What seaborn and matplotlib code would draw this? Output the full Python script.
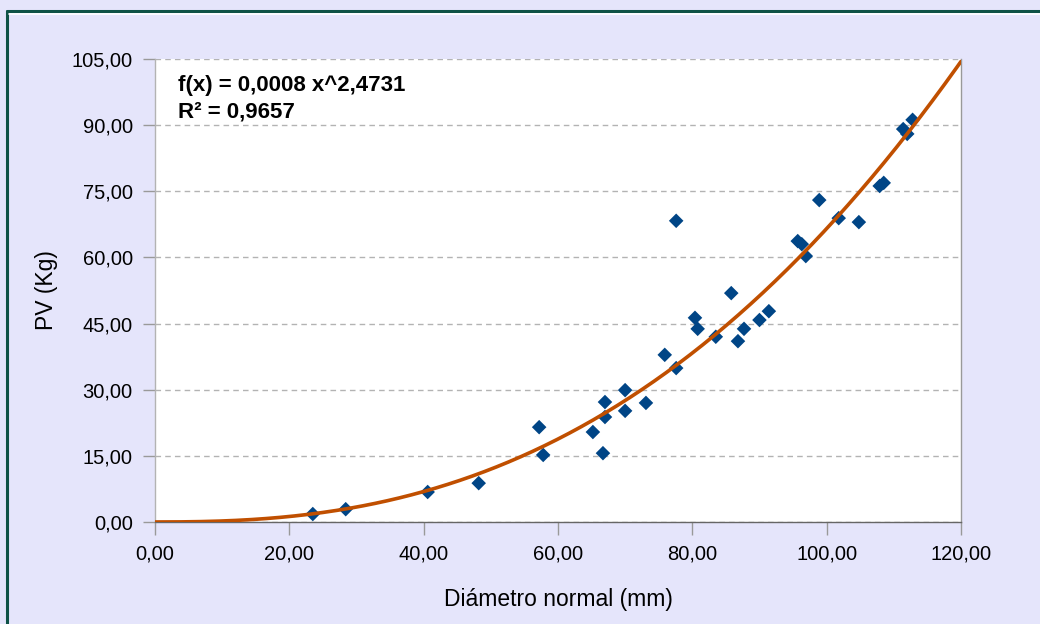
import numpy as np
import pandas as pd
import matplotlib.pyplot as plt
import seaborn as sns
from matplotlib.ticker import FuncFormatter, MultipleLocator
from matplotlib.lines import Line2D

sns.set_style("white")
plt.rcParams['font.family'] = ['Liberation Sans', 'DejaVu Sans']

# Data
diametro = [23.5, 28.4, 40.6, 48.2, 57.2, 57.8, 65.2, 66.7, 67.0, 67.0,
            70.0, 70.0, 73.1, 75.9, 77.6, 77.6, 80.4, 80.8, 83.5, 85.8,
            86.8, 87.7, 90.0, 91.4, 95.7, 96.3, 96.9, 98.9, 101.8, 104.8,
            107.9, 108.5, 111.4, 112.0, 112.8]
peso = [1.8, 2.9, 6.8, 8.8, 21.5, 15.2, 20.4, 15.6, 23.8, 27.2,
        29.9, 25.2, 27.0, 37.9, 34.9, 68.3, 46.3, 43.8, 42.0, 51.9,
        41.0, 43.8, 45.8, 47.8, 63.7, 63.0, 60.3, 73.0, 68.9, 68.0,
        76.2, 76.9, 89.1, 88.0, 91.2]

# power trendline f(x) = a * x^b
coef_a = 0.000753
coef_b = 2.4731
eq_text = "f(x) = 0,0008 x^2,4731\nR² = 0,9657"

df = pd.DataFrame({"Diametro": diametro, "PV": peso})
x_fit = np.linspace(0, 120, 400)
df_fit = pd.DataFrame({"Diametro": x_fit, "PV": coef_a * x_fit ** coef_b})

bg = "#e5e5fb"
fig = plt.figure(figsize=(10.4, 6.24), dpi=100, facecolor=bg)
ax = fig.add_axes([0.149, 0.1635, 0.775, 0.742])
ax.set_facecolor("white")

ax.yaxis.grid(True, linestyle=(0, (4, 3)), color="#b3b3b3", linewidth=1)
ax.set_axisbelow(True)

sns.lineplot(data=df_fit, x="Diametro", y="PV", ax=ax, color="#c04f00",
             linewidth=2.6, zorder=3)
sns.scatterplot(data=df, x="Diametro", y="PV", ax=ax, marker="D", s=55,
                color="#004586", edgecolor="none", zorder=2)

ax.set_xlim(0, 120)
ax.set_ylim(0, 105)
ax.xaxis.set_major_locator(MultipleLocator(20))
ax.yaxis.set_major_locator(MultipleLocator(15))
fmt = FuncFormatter(lambda v, p: f"{v:.2f}".replace(".", ","))
ax.xaxis.set_major_formatter(fmt)
ax.yaxis.set_major_formatter(fmt)
ax.tick_params(axis="both", direction="out", length=9, width=1, color="#999999",
               labelsize=14.5, labelcolor="#000000", pad=7, left=True, bottom=True)

ax.spines["top"].set_visible(False)
ax.spines["left"].set_color("#b3b3b3")
ax.spines["right"].set_color("#999999")
ax.spines["bottom"].set_color("#666666")
for s in ax.spines.values():
    s.set_linewidth(1)

ax.set_xlabel("Diámetro normal (mm)", fontsize=16.5, color="#000000", labelpad=18)
ax.set_ylabel("PV (Kg)", fontsize=16.5, color="#000000", labelpad=10)

ax.text(0.028, 0.965, eq_text, transform=ax.transAxes, fontsize=16,
        fontweight="bold", va="top", ha="left", color="#000000", linespacing=1.35)

# frame border (top / left)
fig.add_artist(Line2D([7 / 1040, 1], [1 - 11 / 624, 1 - 11 / 624],
                      color="#0f5246", linewidth=2.2, transform=fig.transFigure))
fig.add_artist(Line2D([7 / 1040, 7 / 1040], [0, 1 - 11 / 624],
                      color="#0f5246", linewidth=2.2, transform=fig.transFigure))
fig.add_artist(Line2D([9 / 1040, 1], [1 - 13.5 / 624, 1 - 13.5 / 624],
                      color="white", linewidth=1.2, transform=fig.transFigure))

fig.savefig("out.png", dpi=100, facecolor=bg)
